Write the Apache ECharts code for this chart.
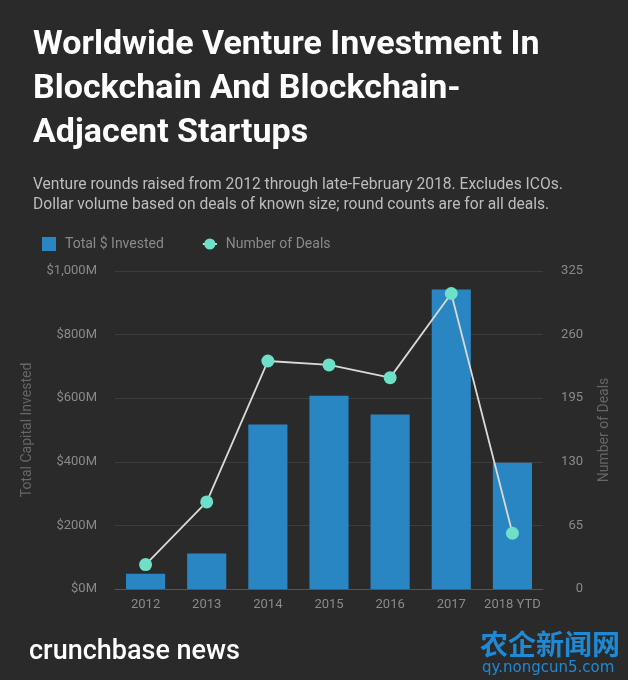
<!DOCTYPE html>
<html><head><meta charset="utf-8">
<script src="https://cdn.jsdelivr.net/npm/echarts@6/dist/echarts.min.js"></script>
<style>html,body{margin:0;padding:0;background:#2a2a2a;}#c{width:628px;height:680px;}</style>
</head><body><div id="c"></div>
<script>
const categories = ['2012','2013','2014','2015','2016','2017','2018 YTD'];
const investedM = [48, 112, 517, 608, 549, 942, 397];
const dealCounts = [25, 89, 233, 229, 216, 302, 57];
const leftTicks = [0, 200, 400, 600, 800, 1000];
const rightTicks = [0, 65, 130, 195, 260, 325];

const chart = echarts.init(document.getElementById('c'), null, {renderer:'canvas'});
const font = 'Roboto';
chart.setOption({
  backgroundColor: '#2a2a2a',
  animation: false,
  title: [
    {text: 'Worldwide Venture Investment In\nBlockchain And Blockchain-\nAdjacent Startups', left: 28, top: 18,
     textStyle: {color:'#ffffff', fontFamily: font, fontWeight:'bold', fontSize: 34, lineHeight: 44}},
    {text: 'Venture rounds raised from 2012 through late-February 2018. Excludes ICOs.\nDollar volume based on deals of known size; round counts are for all deals.', left: 28, top: 170,
     textStyle: {color:'#bdbdbd', fontFamily: font, fontWeight:'normal', fontSize: 15.6, lineHeight: 20}}
  ],
  legend: {
    left: 37, top: 232, itemWidth: 14, itemHeight: 14, itemGap: 38,
    textStyle: {color:'#8a8a8a', fontFamily: font, fontSize: 14, padding: [0, 0, 0, 4]},
    data: [{name:'Total $ Invested', icon:'rect'}, {name:'Number of Deals'}]
  },
  grid: {left: 115, right: 85, top: 271, bottom: 91, containLabel: false},
  xAxis: {
    type: 'category', data: categories,
    axisLine: {lineStyle: {color:'#555555', width: 1}},
    axisTick: {show: false},
    axisLabel: {color:'#8a8a8a', fontFamily: font, fontSize: 13, margin: 9, interval: 0}
  },
  yAxis: [
    {type:'value', min: leftTicks[0], max: leftTicks[leftTicks.length-1], interval: 200,
     name: 'Total Capital Invested', nameLocation: 'middle', nameGap: 81,
     nameTextStyle: {color:'#666666', fontFamily: font, fontSize: 14},
     axisLine:{show:false}, axisTick:{show:false},
     axisLabel: {color:'#8a8a8a', fontFamily: font, fontSize: 13, margin: 18,
       formatter: v => '$' + v.toLocaleString('en-US') + 'M'},
     splitLine: {lineStyle: {color:'#3d3d3d', width: 1}}},
    {type:'value', min: rightTicks[0], max: rightTicks[rightTicks.length-1], interval: 65,
     name: 'Number of Deals', nameLocation: 'middle', nameGap: 54,
     nameTextStyle: {color:'#666666', fontFamily: font, fontSize: 14},
     axisLine:{show:false}, axisTick:{show:false},
     axisLabel: {color:'#8a8a8a', fontFamily: font, fontSize: 13, margin: 40, align: 'right'},
     splitLine: {show:false}}
  ],
  series: [
    {name:'Total $ Invested', type:'bar', data: investedM, yAxisIndex: 0,
     barCategoryGap: '36%', itemStyle: {color:'#2a86c2'}},
    {name:'Number of Deals', type:'line', data: dealCounts, yAxisIndex: 1,
     symbol:'circle', symbolSize: 13,
     itemStyle: {color:'#6ee0c8'}, lineStyle: {color:'#d9d9d9', width: 1.8}}
  ],
  graphic: [
    {type:'text', left: 29, top: 639, style: {text:'crunchbase news', fill:'#ffffff', font: '500 27px "Roboto"'}},
    {type:'text', left: 480, top: 630, style: {text:'农企新闻网', fill:'#1e8ad6', font: 'bold 28px "Noto Sans CJK SC"'}},
    {type:'text', left: 482, top: 661, style: {text:'qy.nongcun5.com', fill:'#1e8ad6', font: '15px "DejaVu Sans"'}}
  ]
});
</script></body></html>
